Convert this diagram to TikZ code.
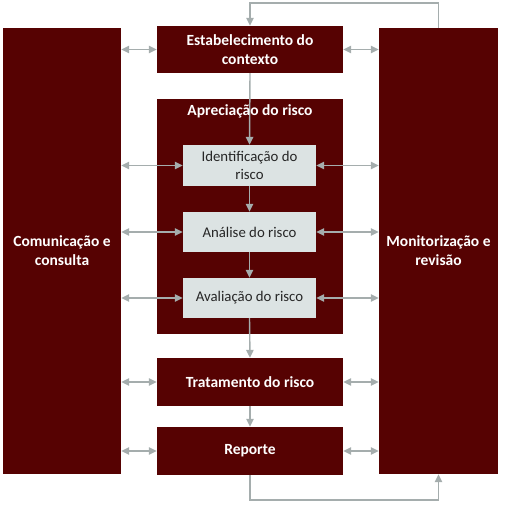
\documentclass[tikz,border=0pt]{standalone}
\usepackage{fontspec}
\setmainfont{Carlito}
\usetikzlibrary{arrows.meta}
\definecolor{dred}{RGB}{86,2,2}
\definecolor{lbox}{RGB}{220,227,227}
\definecolor{agray}{RGB}{165,173,173}
\tikzset{
  big/.style={fill=dred,draw=none,minimum width=118pt,minimum height=446pt,inner sep=0pt,text=white,font=\fontsize{15.5}{19}\selectfont\bfseries,align=center},
  dbox/.style={fill=dred,draw=none,minimum width=186pt,inner sep=0pt,text=white,font=\fontsize{15.5}{19}\selectfont\bfseries,align=center},
  lightbox/.style={fill=lbox,draw=none,minimum width=133pt,minimum height=40pt,inner sep=0pt,text=black!85,font=\fontsize{14.8}{18}\selectfont,align=center},
  arr/.style={draw=agray,line width=1.4pt,-{Triangle[length=8pt,width=7.5pt]}},
  darr/.style={draw=agray,line width=1.4pt,{Triangle[length=8pt,width=7.5pt]}-{Triangle[length=8pt,width=7.5pt]}}
}
\begin{document}
\begin{tikzpicture}[x=1pt,y=-1pt]
\useasboundingbox (0,0) rectangle (506,506);
\node[big] (L) at (62,251) {Comunicação e\\consulta};
\node[big,minimum width=119pt] (R) at (438.5,251) {Monitorização e\\revisão};
\node[dbox,minimum height=47pt] (E) at (250,49.5) {Estabelecimento do\\contexto};
\node[dbox,minimum height=235pt] (A) at (250,216.5) {};
\node[lightbox,minimum height=41pt] (I) at (249.5,165.5) {Identificação do\\risco};
\node[lightbox] (N) at (249.5,232) {Análise do risco};
\node[lightbox] (V) at (249.5,298) {Avaliação do risco};
\node[dbox,minimum height=48pt] (T) at (250,382) {Tratamento do risco};
\node[dbox,minimum height=48pt] (P) at (250,451) {Reporte};
\coordinate (t) at (250,3);
\coordinate (b) at (250,500);
% vertical flow
\draw[arr] (R.north) |- (t) -- (E.north);
\draw[arr] (E.south) -- (I.north);
\draw[arr] (I.south) -- (N.north);
\draw[arr] (N.south) -- (V.north);
\draw[arr] (V.south) -- (T.north);
\draw[arr] (T.south) -- (P.north);
\draw[arr] (P.south) -- (b) -| (R.south);
% horizontal double arrows
\foreach \n in {E,I,N,V,T,P}{
  \draw[darr] (\n.west -| L.east) -- (\n.west);
  \draw[darr] (\n.east) -- (\n.east -| R.west);
}
\node[text=white,font=\fontsize{15.5}{19}\selectfont\bfseries] (AT) at (250,111) {Apreciação do risco};
\end{tikzpicture}
\end{document}
